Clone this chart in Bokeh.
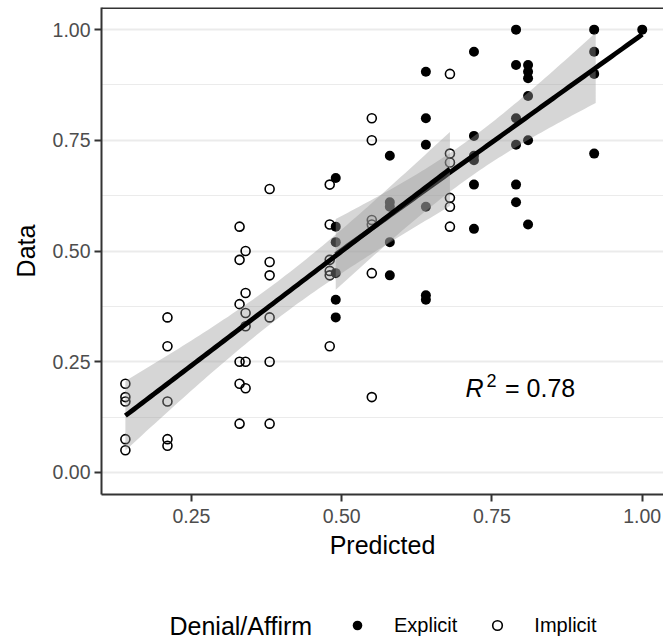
import numpy as np
from bokeh.plotting import figure
from bokeh.layouts import column
from bokeh.models import (FixedTicker, PrintfTickFormatter, Legend, LegendItem,
                          Label, Span, Range1d)
from bokeh.embed import file_html
from bokeh.resources import INLINE

FONT = "Liberation Sans"

# ---------------- data ----------------
implicit_predicted = [0.14, 0.14, 0.14, 0.14, 0.14,
                      0.21, 0.21, 0.21, 0.21, 0.21,
                      0.33, 0.33, 0.33, 0.33, 0.33, 0.33,
                      0.34, 0.34, 0.34, 0.34, 0.34, 0.34,
                      0.38, 0.38, 0.38, 0.38, 0.38, 0.38,
                      0.48, 0.48, 0.48, 0.48, 0.48, 0.48,
                      0.55, 0.55, 0.55, 0.55, 0.55, 0.55,
                      0.68, 0.68, 0.68, 0.68, 0.68, 0.68]
implicit_data = [0.20, 0.17, 0.16, 0.075, 0.05,
                 0.35, 0.285, 0.16, 0.075, 0.06,
                 0.555, 0.48, 0.38, 0.25, 0.20, 0.11,
                 0.50, 0.405, 0.36, 0.33, 0.25, 0.19,
                 0.64, 0.475, 0.445, 0.35, 0.25, 0.11,
                 0.65, 0.56, 0.48, 0.455, 0.445, 0.285,
                 0.80, 0.75, 0.57, 0.56, 0.45, 0.17,
                 0.90, 0.72, 0.70, 0.62, 0.60, 0.555]

explicit_predicted = [0.49, 0.49, 0.49, 0.49, 0.49, 0.49,
                      0.58, 0.58, 0.58, 0.58, 0.58,
                      0.64, 0.64, 0.64, 0.64, 0.64, 0.64,
                      0.72, 0.72, 0.72, 0.72, 0.72, 0.72,
                      0.79, 0.79, 0.79, 0.79, 0.79, 0.79,
                      0.81, 0.81, 0.81, 0.81, 0.81, 0.81,
                      0.92, 0.92, 0.92, 0.92,
                      1.00]
explicit_data = [0.665, 0.555, 0.52, 0.45, 0.39, 0.35,
                 0.715, 0.61, 0.60, 0.52, 0.445,
                 0.905, 0.80, 0.74, 0.60, 0.40, 0.39,
                 0.95, 0.76, 0.715, 0.705, 0.65, 0.55,
                 1.00, 0.92, 0.80, 0.74, 0.65, 0.61,
                 0.92, 0.905, 0.89, 0.85, 0.75, 0.56,
                 1.00, 0.95, 0.90, 0.72,
                 1.00]

x_ticks = [0.25, 0.50, 0.75, 1.00]
y_ticks = [0.00, 0.25, 0.50, 0.75, 1.00]
y_minor = [0.125, 0.375, 0.625, 0.875]
r2_value = "0.78"
legend_title = "Denial/Affirm"
group_labels = ["Explicit", "Implicit"]


# ---------------- linear fit with 95% band (as geom_smooth(method="lm")) ----------------
def t975(df):
    z = 1.959963985
    return (z + (z**3 + z) / (4 * df) + (5 * z**5 + 16 * z**3 + 3 * z) / (96 * df**2)
            + (3 * z**7 + 19 * z**5 + 17 * z**3 - 15 * z) / (384 * df**3))


def lm_band(xs, ys, n=80):
    x = np.asarray(xs, float)
    y = np.asarray(ys, float)
    N = len(x)
    xb = x.mean()
    sxx = ((x - xb) ** 2).sum()
    b = ((x - xb) * (y - y.mean())).sum() / sxx
    a = y.mean() - b * xb
    s = np.sqrt(((y - (a + b * x)) ** 2).sum() / (N - 2))
    gx = np.linspace(x.min(), x.max(), n)
    fit = a + b * gx
    se = s * np.sqrt(1.0 / N + (gx - xb) ** 2 / sxx)
    t = t975(N - 2)
    return gx, fit, fit - t * se, fit + t * se


# ---------------- main figure ----------------
X0, X1 = 0.10025, 1.03536
Y0, Y1 = -0.05, 1.05

p = figure(width=663, height=598, output_backend="svg", toolbar_location=None,
           x_range=Range1d(X0, X1), y_range=Range1d(Y0, Y1),
           min_border_left=101, min_border_right=0, min_border_top=7,
           min_border_bottom=104)
p.title = None
p.outline_line_color = None
p.background_fill_color = "white"
p.border_fill_color = "white"

# grid
p.xgrid.visible = False
p.ygrid.grid_line_color = "#EBEBEB"
p.ygrid.grid_line_width = 2.2
p.ygrid.minor_grid_line_color = "#EBEBEB"
p.ygrid.minor_grid_line_width = 1.1

# axes
p.xaxis.ticker = FixedTicker(ticks=x_ticks)
p.yaxis.ticker = FixedTicker(ticks=y_ticks, minor_ticks=y_minor)
p.xaxis.formatter = PrintfTickFormatter(format="%.2f")
p.yaxis.formatter = PrintfTickFormatter(format="%.2f")
p.xaxis.axis_label = "Predicted"
p.yaxis.axis_label = "Data"
for ax in (p.xaxis, p.yaxis):
    ax.axis_line_color = "#333333"
    ax.axis_line_width = 2
    ax.major_tick_line_color = "#333333"
    ax.major_tick_line_width = 2
    ax.major_tick_out = 7
    ax.major_tick_in = 0
    ax.minor_tick_out = 0
    ax.minor_tick_in = 0
    ax.major_label_text_font = FONT
    ax.major_label_text_font_size = "19.5px"
    ax.major_label_text_color = "#4D4D4D"
    ax.axis_label_text_font = FONT
    ax.axis_label_text_font_size = "25px"
    ax.axis_label_text_font_style = "normal"
    ax.axis_label_text_color = "black"
p.xaxis.major_label_standoff = 7
p.xaxis.axis_label_standoff = 5
p.yaxis.major_label_standoff = 4
p.yaxis.axis_label_standoff = 10

# top panel border (the right edge of the panel lies outside the picture)
p.add_layout(Span(location=Y1, dimension="width", line_color="#333333", line_width=3))

# points
r_exp = p.scatter(explicit_predicted, explicit_data, marker="circle", size=10,
                  fill_color="black", line_color=None)
r_imp = p.scatter(implicit_predicted, implicit_data, marker="circle", size=9,
                  fill_color=None, line_color="black", line_width=1.6)

# smooths (one per group), ribbon censored at the y limits [0, 1]
for xs, ys in ((explicit_predicted, explicit_data), (implicit_predicted, implicit_data)):
    gx, fit, lo, hi = lm_band(xs, ys)
    ok = (lo >= 0) & (hi <= 1)
    p.varea(x=gx[ok], y1=lo[ok], y2=hi[ok], fill_color="#999999", fill_alpha=0.4)
    p.line(gx, fit, line_color="black", line_width=4.8)

# R^2 annotation (italic R, superscript 2)
p.add_layout(Label(x=0.7059, y=0.190, text="R", text_font=FONT, text_font_size="25px",
                   text_font_style="italic", text_color="black", text_baseline="middle",
                   text_align="left"))
p.add_layout(Label(x=0.7409, y=0.207, text="2", text_font=FONT, text_font_size="18px",
                   text_color="black", text_baseline="middle", text_align="left"))
p.add_layout(Label(x=0.7716, y=0.190, text="= " + r2_value, text_font=FONT,
                   text_font_size="25px", text_color="black", text_baseline="middle",
                   text_align="left"))

# ---------------- legend row (below the plot) ----------------
# the legend keys are drawn from renderers whose points lie outside this row's ranges
lg = figure(width=663, height=42, output_backend="svg", toolbar_location=None,
            x_range=Range1d(2, 3), y_range=Range1d(2, 3), min_border=0,
            x_axis_location=None, y_axis_location=None)
lg.title = None
lg.outline_line_color = None
lg.background_fill_color = "white"
lg.border_fill_color = "white"
lg.xgrid.visible = False
lg.ygrid.visible = False
k_exp = lg.scatter(explicit_predicted, explicit_data, marker="circle", size=10,
                   fill_color="black", line_color=None)
k_imp = lg.scatter(implicit_predicted, implicit_data, marker="circle", size=9,
                   fill_color=None, line_color="black", line_width=1.6)

legend = Legend(items=[LegendItem(label=group_labels[0], renderers=[k_exp]),
                       LegendItem(label=group_labels[1], renderers=[k_imp])],
                orientation="horizontal", location=(244, 3))
legend.label_text_font = FONT
legend.label_text_font_size = "20px"
legend.label_text_color = "black"
legend.label_standoff = 25
legend.spacing = 28
legend.glyph_width = 24
legend.glyph_height = 24
legend.label_height = 20
legend.padding = 0
legend.margin = 0
legend.border_line_color = None
legend.background_fill_color = None
legend.background_fill_alpha = 0
lg.add_layout(legend)

lg.add_layout(Label(x=68, y=15, x_units="screen", y_units="screen", text=legend_title,
                    text_font=FONT, text_font_size="25px", text_color="black",
                    text_baseline="middle", text_align="left"))

layout = column(p, lg, spacing=0)
open("out.html", "w").write(file_html(layout, INLINE))
